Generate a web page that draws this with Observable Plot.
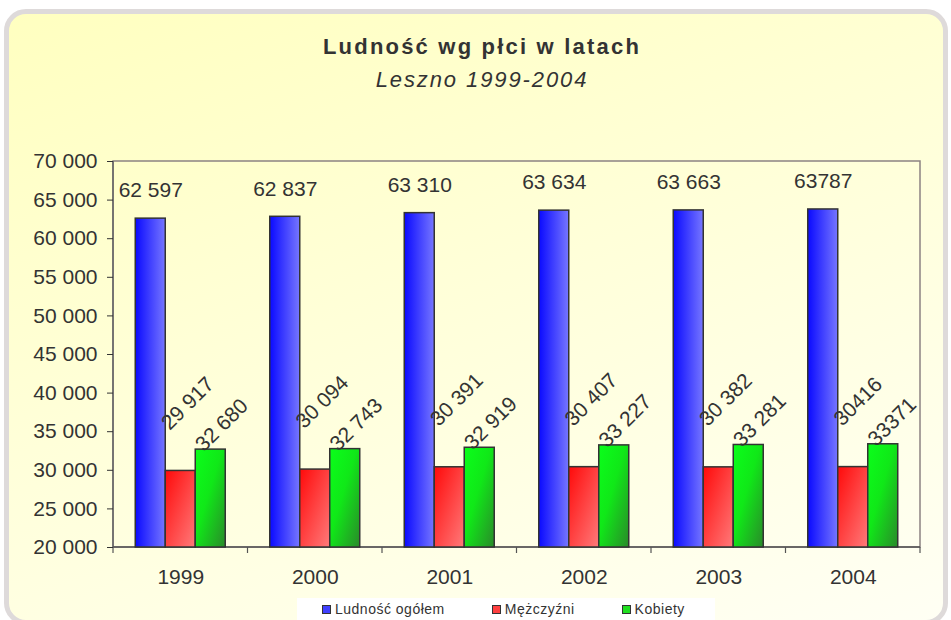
<!DOCTYPE html>
<html>
<head>
<meta charset="utf-8">
<script src="https://cdn.jsdelivr.net/npm/d3@7"></script>
<script src="https://cdn.jsdelivr.net/npm/@observablehq/plot@0.6"></script>
<style>
  html, body { margin: 0; padding: 0; background: #ffffff; }
  body { width: 951px; height: 620px; position: relative; overflow: hidden; font-family: "Liberation Sans", Arial, sans-serif; color: #333; }
  #frame { position: absolute; left: 4px; top: 9px; width: 944px; height: 616px; box-sizing: border-box;
           border: 5px solid #dedada; border-radius: 22px;
           background: linear-gradient(160deg, #ffffc0 0%, #ffffd8 45%, #fffff4 100%); }
  #title { position: absolute; left: 0; width: 964px; top: 34px; text-align: center; font-weight: bold; font-size: 22px; letter-spacing: 2.2px; color: #333; }
  #subtitle { position: absolute; left: 0; width: 964px; top: 67px; text-align: center; font-style: italic; font-size: 22px; letter-spacing: 1.9px; color: #333; }
  #chart { position: absolute; left: 0; top: 140px; }
  #legend { position: absolute; left: 297px; top: 598px; height: 22px; padding-left: 25px; padding-right: 30px; background: #ffffff; display: flex; align-items: center; font-size: 14px; letter-spacing: 0.5px; color: #333; }
  .li { display: flex; align-items: center; margin-right: 47px; }
  .li:last-child { margin-right: 0; }
  .sw { width: 7px; height: 7px; border: 1.5px solid #333; margin-right: 4px; }
  .bar-total rect { fill: url(#gBlue); }
  .bar-men rect { fill: url(#gRed); }
  .bar-women rect { fill: url(#gGreen); }
</style>
</head>
<body>
<svg width="0" height="0" style="position:absolute">
  <defs>
    <linearGradient id="gBlue" x1="0" y1="0" x2="1" y2="0">
      <stop offset="0" stop-color="#0a0aff"/>
      <stop offset="1" stop-color="#7676ff"/>
    </linearGradient>
    <linearGradient id="gRed" x1="0" y1="0" x2="1" y2="1">
      <stop offset="0" stop-color="#ff0a0a"/>
      <stop offset="1" stop-color="#ff7a7a"/>
    </linearGradient>
    <linearGradient id="gGreen" x1="0" y1="0" x2="1" y2="1">
      <stop offset="0" stop-color="#0aff1a"/>
      <stop offset="0.45" stop-color="#10e818"/>
      <stop offset="1" stop-color="#2a8a2a"/>
    </linearGradient>
  </defs>
</svg>
<div id="frame"></div>
<div id="title">Ludność wg płci w latach</div>
<div id="subtitle">Leszno 1999-2004</div>
<div id="chart"></div>
<div id="legend"></div>
<script>
// ---- data ----
const years = ["1999", "2000", "2001", "2002", "2003", "2004"];
const seriesNames = ["Ludność ogółem", "Mężczyźni", "Kobiety"];
const total = [62597, 62837, 63310, 63634, 63663, 63787];
const men = [29917, 30094, 30391, 30407, 30382, 30416];
const women = [32680, 32743, 32919, 33227, 33281, 33371];
const totalLabels = ["62 597", "62 837", "63 310", "63 634", "63 663", "63787"];
const menLabels = ["29 917", "30 094", "30 391", "30 407", "30 382", "30416"];
const womenLabels = ["32 680", "32 743", "32 919", "33 227", "33 281", "33371"];
const yTicks = [20000, 25000, 30000, 35000, 40000, 45000, 50000, 55000, 60000, 65000, 70000];
const swatchColors = ["#4040ff", "#ff4040", "#20e020"];

// ---- table ----
const rows = [];
years.forEach((yr, i) => {
  rows.push({year: yr, series: seriesNames[0], value: total[i], label: totalLabels[i]});
  rows.push({year: yr, series: seriesNames[1], value: men[i], label: menLabels[i]});
  rows.push({year: yr, series: seriesNames[2], value: women[i], label: womenLabels[i]});
});
const rTotal = rows.filter(d => d.series === seriesNames[0]);
const rMen = rows.filter(d => d.series === seriesNames[1]);
const rWomen = rows.filter(d => d.series === seriesNames[2]);

const fmt = v => d3.format(",")(v).replace(/,/g, " ");

const barOpts = {fx: "year", x: "series", y: "value", stroke: "#333", strokeWidth: 1.5};

const plot = Plot.plot({
  width: 951,
  height: 450,
  marginTop: 21,
  marginBottom: 43,
  marginLeft: 113,
  marginRight: 31,
  style: {background: "transparent", fontFamily: "Liberation Sans, Arial, sans-serif", fontSize: "21px", color: "#333", overflow: "visible"},
  fx: {domain: years, padding: 0, round: false, label: null, tickSize: 0, tickPadding: 22, axis: "bottom", fontSize: "22px"},
  x: {domain: seriesNames, paddingInner: 0, paddingOuter: 0.742, round: false, axis: null},
  y: {domain: [20000, 70000], clamp: true, ticks: yTicks, tickFormat: fmt, tickSize: 6, tickPadding: 10, label: null},
  marks: [
    Plot.barY(rTotal, {...barOpts, className: "bar-total", fill: "#4040ff"}),
    Plot.barY(rMen, {...barOpts, className: "bar-men", fill: "#ff4040"}),
    Plot.barY(rWomen, {...barOpts, className: "bar-women", fill: "#20e020"}),
    Plot.text(rTotal, {fx: "year", x: "series", y: "value", text: "label", dy: -28, fontSize: 21, fill: "#333"}),
    Plot.text(rMen, {fx: "year", x: "series", y: "value", text: "label", rotate: -45, textAnchor: "start", lineAnchor: "bottom", dx: -11, dy: -40, fontSize: 21, fill: "#333"}),
    Plot.text(rWomen, {fx: "year", x: "series", y: "value", text: "label", rotate: -45, textAnchor: "start", lineAnchor: "bottom", dx: -7, dy: 3, fontSize: 21, fill: "#333"})
  ]
});
document.getElementById("chart").appendChild(plot);

// ---- frame, axis lines and category boundary ticks from the plot's scales ----
const svg = d3.select(plot);
const fxs = plot.scale("fx");
const ys = plot.scale("y");
const fxScale = d3.scaleBand(fxs.domain, fxs.range).paddingInner(fxs.paddingInner || 0).paddingOuter(fxs.paddingOuter || 0);
const yScale = d3.scaleLinear(ys.domain, ys.range);
const x0 = fxs.range[0], x1 = fxs.range[1];
const yTop = yScale(ys.domain[1]), yBot = yScale(ys.domain[0]);
const g = svg.insert("g", ":first-child");
g.append("rect").attr("x", x0).attr("y", yTop).attr("width", x1 - x0).attr("height", yBot - yTop)
  .attr("fill", "none").attr("stroke", "#8c8282").attr("stroke-width", 1.5);
g.append("line").attr("x1", x0).attr("x2", x0).attr("y1", yTop).attr("y2", yBot).attr("stroke", "#666").attr("stroke-width", 1.5);
g.append("line").attr("x1", x0).attr("x2", x1).attr("y1", yBot).attr("y2", yBot).attr("stroke", "#555").attr("stroke-width", 1.5);
const bounds = fxs.domain.map(d => fxScale(d)).concat([fxScale(fxs.domain[fxs.domain.length - 1]) + fxScale.bandwidth()]);
bounds.forEach(b => {
  g.append("line").attr("x1", b).attr("x2", b).attr("y1", yBot).attr("y2", yBot + 6).attr("stroke", "#555").attr("stroke-width", 1.2);
});

// ---- legend ----
const legend = d3.select("#legend");
seriesNames.forEach((s, i) => {
  const item = legend.append("div").attr("class", "li");
  item.append("div").attr("class", "sw").style("background", swatchColors[i]);
  item.append("span").text(s);
});
</script>
</body>
</html>
